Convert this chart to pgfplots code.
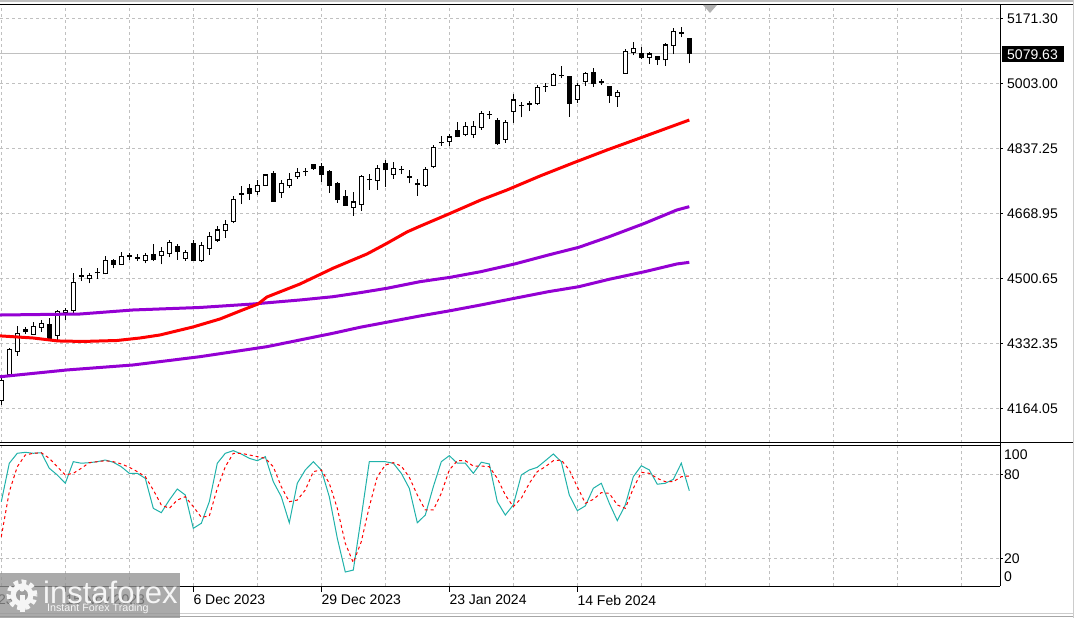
\documentclass[border=0pt]{standalone}
\usepackage{pgfplots}
\pgfplotsset{compat=1.18}
\usepackage{pgfplotstable}
\usepackage{fontspec}
\setmainfont{Liberation Sans}

\definecolor{gridgray}{RGB}{192,192,192}
\definecolor{mapurple}{RGB}{148,0,211}
\definecolor{stochteal}{RGB}{32,178,170}

% daily candles, bar index k
\pgfplotstableread{
k open high low close
0 4183.0 4245.2 4170.1 4234.8
1 4247.8 4317.7 4242.6 4314.3
2 4308.1 4374.6 4297.0 4355.2
3 4364.3 4372.0 4353.9 4359.1
4 4353.9 4385.0 4351.3 4374.6
5 4371.3 4390.2 4359.9 4381.6
6 4379.0 4394.6 4338.4 4342.8
7 4351.3 4416.0 4338.4 4410.9
8 4408.3 4421.2 4390.2 4416.0
9 4413.5 4511.1 4408.3 4487.8
10 4503.3 4524.0 4491.1 4504.1
11 4497.1 4512.6 4485.2 4504.8
12 4511.9 4524.0 4496.3 4514.4
13 4509.3 4555.9 4508.0 4543.7
14 4543.7 4549.4 4524.0 4535.1
15 4534.4 4565.4 4532.6 4554.1
16 4555.1 4564.9 4546.8 4555.9
17 4549.9 4559.8 4542.9 4550.7
18 4544.8 4564.9 4537.0 4555.9
19 4558.5 4587.0 4542.9 4545.6
20 4555.9 4580.0 4533.9 4567.0
21 4562.9 4597.3 4552.5 4591.4
22 4579.2 4585.7 4545.6 4567.6
23 4549.9 4571.4 4543.7 4564.5
24 4587.0 4597.3 4542.9 4543.7
25 4543.7 4592.2 4540.4 4581.8
26 4575.9 4618.1 4558.5 4605.1
27 4597.3 4633.6 4592.9 4623.2
28 4621.4 4649.1 4602.5 4638.7
29 4644.7 4711.2 4640.6 4702.7
30 4715.1 4737.1 4690.5 4717.7
31 4731.2 4742.3 4700.9 4717.7
32 4722.4 4751.4 4713.8 4739.7
33 4737.9 4768.2 4737.1 4765.6
34 4768.2 4776.0 4695.7 4696.5
35 4719.8 4752.7 4706.1 4744.1
36 4737.9 4770.0 4732.0 4752.7
37 4761.2 4783.0 4755.3 4772.6
38 4773.4 4783.7 4764.3 4774.7
39 4791.5 4792.8 4778.6 4782.4
40 4788.9 4795.9 4748.3 4766.9
41 4774.2 4777.3 4719.8 4739.7
42 4742.3 4748.3 4694.4 4700.9
43 4711.2 4726.8 4685.4 4686.7
44 4681.5 4722.4 4659.5 4695.7
45 4689.8 4765.6 4673.2 4762.3
46 4752.7 4768.2 4726.8 4754.0
47 4750.9 4791.5 4726.8 4783.0
48 4794.1 4803.2 4734.6 4778.6
49 4767.4 4798.0 4755.3 4783.0
50 4779.9 4788.9 4768.2 4778.6
51 4763.0 4778.6 4744.1 4760.4
52 4742.3 4755.3 4712.5 4741.0
53 4738.4 4786.3 4734.6 4780.4
54 4787.6 4842.0 4783.0 4836.3
55 4848.5 4866.6 4840.7 4849.8
56 4851.8 4871.8 4840.7 4864.0
57 4882.1 4903.6 4863.2 4864.8
58 4871.0 4903.6 4865.3 4891.2
59 4871.0 4905.4 4861.4 4889.9
60 4889.1 4931.3 4883.4 4926.1
61 4922.3 4931.3 4910.6 4923.5
62 4908.0 4911.9 4843.3 4845.9
63 4858.1 4908.0 4849.2 4902.8
64 4931.3 4975.3 4901.0 4959.8
65 4945.6 4955.4 4915.0 4944.5
66 4949.4 4958.5 4931.3 4950.7
67 4950.7 4999.9 4946.9 4992.7
68 4994.8 5003.0 4981.3 4996.0
69 4997.9 5031.0 4996.0 5025.3
70 5023.2 5047.8 5016.0 5024.5
71 5021.9 5023.2 4916.6 4950.7
72 4961.6 5004.6 4952.8 4998.6
73 5007.2 5033.1 4997.3 5027.9
74 5031.5 5041.4 4993.5 5003.0
75 5007.7 5014.2 4999.9 5006.4
76 4994.8 4996.0 4952.8 4970.9
77 4968.3 4984.4 4942.5 4979.7
78 5028.9 5093.1 5028.4 5084.8
79 5083.3 5109.2 5076.3 5093.7
80 5080.7 5096.2 5067.2 5069.3
81 5069.3 5083.3 5053.0 5078.9
82 5073.7 5075.0 5050.4 5065.9
83 5063.4 5106.6 5048.6 5102.2
84 5100.4 5145.4 5078.9 5138.4
85 5133.3 5148.0 5122.1 5131.7
86 5119.5 5121.0 5054.8 5079.63
}\ohlc

% stochastic %K and %D
\pgfplotstableread{
k K D
0 60.4 35.4
1 87.9 67.6
2 95.0 85.4
3 95.7 93.8
4 95.0 95.0
5 95.4 95.4
6 84.3 91.4
7 79.5 85.4
8 73.6 79.5
9 89.0 80.7
10 87.9 84.3
11 88.3 88.3
12 89.0 89.0
13 90.2 89.7
14 88.6 89.0
15 85.4 87.4
16 80.7 85.0
17 80.7 81.9
18 77.1 78.3
19 55.7 68.8
20 52.6 58.1
21 61.6 55.7
22 69.5 61.6
23 65.2 64.0
24 41.4 56.9
25 45.0 49.3
26 60.4 50.2
27 87.9 70.0
28 95.0 85.4
29 96.9 95.0
30 94.5 95.0
31 91.4 93.8
32 89.7 92.6
33 92.6 91.4
34 74.7 85.4
35 64.0 71.1
36 45.4 60.4
37 73.6 61.6
38 83.1 68.8
39 89.0 81.9
40 83.1 83.1
41 64.0 73.6
42 34.3 55.7
43 10.2 30.7
44 11.6 16.9
45 49.7 31.9
46 89.0 56.9
47 89.0 78.3
48 89.0 86.6
49 87.9 88.3
50 80.7 85.9
51 70.0 77.9
52 45.4 65.2
53 50.9 54.5
54 71.1 54.5
55 89.0 66.4
56 93.3 83.1
57 87.9 89.7
58 87.9 89.7
59 80.7 85.9
60 88.6 85.9
61 87.4 85.4
62 60.4 77.1
63 50.9 65.2
64 58.1 56.9
65 79.5 62.9
66 83.1 73.6
67 85.0 81.9
68 89.7 85.4
69 94.5 89.7
70 89.0 90.2
71 65.2 83.1
72 54.0 71.1
73 57.4 59.3
74 70.0 62.1
75 73.6 66.9
76 59.3 66.4
77 46.9 58.1
78 58.1 55.7
79 78.3 70.0
80 86.1 81.4
81 83.1 80.7
82 72.9 77.1
83 73.6 74.7
84 76.4 74.7
85 87.9 78.3
86 68.3 78.8
}\stoch

\pgfplotsset{
  mtpanel/.style={
    anchor=south west, scale only axis, width=1000pt,
    xmin=-0.1625, xmax=124.8375,
    axis line style={draw=none},
    xtick={0,8,...,120}, xticklabels={}, yticklabels={},
    major tick length=0pt,
    grid=major,
    major grid style={gridgray, line width=1pt, dash pattern=on 3pt off 3pt},
  },
  pricepanel/.style={mtpanel, at={(0pt,175pt)}, height=438pt,
    ymin=4071.7, ymax=5205.8,
    ytick={4161.5,4329.8,4498.1,4666.4,4834.7,5003.0,5171.3}},
}

\begin{document}
\begin{tikzpicture}[font=\fontsize{14}{16}\selectfont]
\useasboundingbox (0pt,0pt) rectangle (1074pt,618pt);
\fill[white] (0pt,0pt) rectangle (1074pt,618pt);

% price panel: grid and bid line
\begin{axis}[pricepanel]
  \addplot[gridgray, line width=1pt] coordinates {(-1,5079.63) (126,5079.63)};
\end{axis}

% price panel: candles and moving averages, same scale, no grid
\begin{axis}[pricepanel, grid=none, xtick=\empty, ytick=\empty]
  % wicks
  \addplot[black, line width=1pt, mark=none, -,
    quiver={u=0, v={\thisrow{high}-\thisrow{low}}}]
    table[x=k, y=low] {\ohlc};
  % body outline
  \addplot[black, line width=5pt, mark=none, -,
    quiver={u=0, v={abs(\thisrow{close}-\thisrow{open})+2.6}}]
    table[x=k, y expr={min(\thisrow{open},\thisrow{close})-1.3}] {\ohlc};
  % hollow inside
  \addplot[white, line width=3pt, mark=none, -,
    quiver={u=0, v={max(abs(\thisrow{close}-\thisrow{open})-2.6,0)}}]
    table[x=k, y expr={min(\thisrow{open},\thisrow{close})+1.3}] {\ohlc};
  % filled down candles
  \addplot[black, line width=5pt, mark=none, -,
    quiver={u=0, v={max(\thisrow{open}-\thisrow{close},0)}}]
    table[x=k, y=close] {\ohlc};
  % moving averages
  \addplot[mapurple, line width=3pt, line join=round] coordinates {
    (-0.5,4403.0) (9.84,4405.7) (16.46,4416.1) (24.84,4422.6) (31.46,4431.6)
    (37.34,4442.0) (41.46,4450.5) (44.84,4460.9) (48.21,4472.3) (52.34,4489.4)
    (56.14,4500.8) (59.94,4515.3) (64.16,4535.2) (68.39,4558.5) (72.19,4578.4)
    (75.99,4605.9) (80.43,4640.6) (84.44,4675.0) (86,4683.6)};
  \addplot[mapurple, line width=3pt, line join=round] coordinates {
    (-0.5,4242.5) (8.21,4260.8) (16.46,4273.7) (24.84,4295.2) (33.21,4321.1)
    (41.46,4355.8) (44.84,4371.3) (52.34,4400.6) (56.14,4414.3) (59.94,4429.1)
    (64.16,4446.4) (68.39,4463.5) (72.19,4476.4) (75.99,4495.6) (80.43,4515.3)
    (84.44,4535.2) (86,4539.5)};
  \addplot[red, line width=3pt, line join=round] coordinates {
    (-0.5,4349.5) (3.96,4343.6) (7.09,4335.9) (10.21,4334.6) (14.46,4337.1)
    (17.34,4343.6) (19.84,4351.4) (23.96,4372.1) (27.34,4392.8) (29.84,4413.5)
    (32.09,4431.6) (33.21,4449.8) (37.34,4483.4) (41.46,4524.1) (45.71,4561.1)
    (48.21,4588.8) (50.71,4618.1) (52.34,4633.0) (56.14,4666.5) (59.94,4700.9)
    (63.21,4726.8) (67.34,4763.0) (71.46,4796.7) (75.71,4830.3) (79.84,4861.4)
    (86,4908.0)};
\end{axis}

% stochastic panel
\begin{axis}[mtpanel, at={(0pt,31.7pt)}, height=140pt,
  ymin=0, ymax=100, ytick={20,80}]
  \addplot[stochteal, line width=1pt] table[x=k, y=K] {\stoch};
  \addplot[red, line width=1pt, dash pattern=on 3pt off 3pt] table[x=k, y=D] {\stoch};
\end{axis}

\begin{scope}[x=1pt, y=1pt]
% frame
\fill[gray!50] (0,616) rectangle (1074,618);
\draw[black, line width=1pt] (0,613) -- (1074,613);
\draw[black, line width=1pt] (0,175) -- (1074,175);
\draw[black, line width=1pt] (0,172) -- (1000,172);
\draw[black, line width=1pt] (0,31.7) -- (1000,31.7);
\draw[black, line width=1pt] (1000,613) -- (1000,31.7);
\draw[gray!40, line width=1pt] (0,4.7) -- (1074,4.7);
\draw[gray!70, line width=1.5pt] (0,1.5) -- (1074,1.5);
\draw[gray!40, line width=1pt] (1073,0) -- (1073,618);
\fill[gray!60] (703,613) -- (717,613) -- (710,605) -- cycle;

% right scale
\foreach \yy/\lab in {599.7/5171.30, 534.7/5003.00, 469.7/4837.25, 404.7/4668.95,
  339.7/4500.65, 274.7/4332.35, 209.7/4164.05}{
  \draw[black] (1000,\yy) -- (1003,\yy);
  \node[anchor=west, inner sep=0pt] at (1007,\yy) {\lab};
}
\fill[black] (1002,555.5) rectangle (1064,571.5);
\node[anchor=west, inner sep=0pt, white] at (1007,563.5) {5079.63};
\foreach \yy/\lab in {163/100, 143.7/80, 59.7/20, 41/0}{
  \node[anchor=west, inner sep=0pt] at (1004,\yy) {\lab};
}
\draw[black] (1000,143.7) -- (1003,143.7);
\draw[black] (1000,59.7) -- (1003,59.7);

% time scale
\foreach \xx/\lab in {-62.7/26 Oct 2023, 65.3/15 Nov 2023, 193.3/6 Dec 2023,
  321.3/29 Dec 2023, 449.3/23 Jan 2024, 577.3/14 Feb 2024}{
  \draw[black, line width=1pt] (\xx,31.7) -- (\xx,26.2);
  \node[anchor=west, inner sep=0pt] at (\xx,18) {\lab};
}

% watermark
\begin{scope}[opacity=0.78]
  \fill[gray!85] (0,0) rectangle (180,45);
\end{scope}
\begin{scope}[gray!8]
  \draw[line width=5pt, dash pattern=on 4.5pt off 3.5pt] (22,23) circle (13);
  \fill (22,23) circle (11.5);
  \fill[gray!75] (22,23) circle (6);
  \fill (19.5,6) rectangle (24.5,23);
  \fill (22,29) circle (2.6);
  \node[anchor=west, inner sep=0pt, font=\fontsize{31}{31}\selectfont] at (43,26) {instaforex};
  \node[anchor=west, inner sep=0pt, font=\fontsize{10.7}{12}\selectfont] at (47,9.5) {Instant Forex Trading};
\end{scope}
\end{scope}
\end{tikzpicture}
\end{document}
